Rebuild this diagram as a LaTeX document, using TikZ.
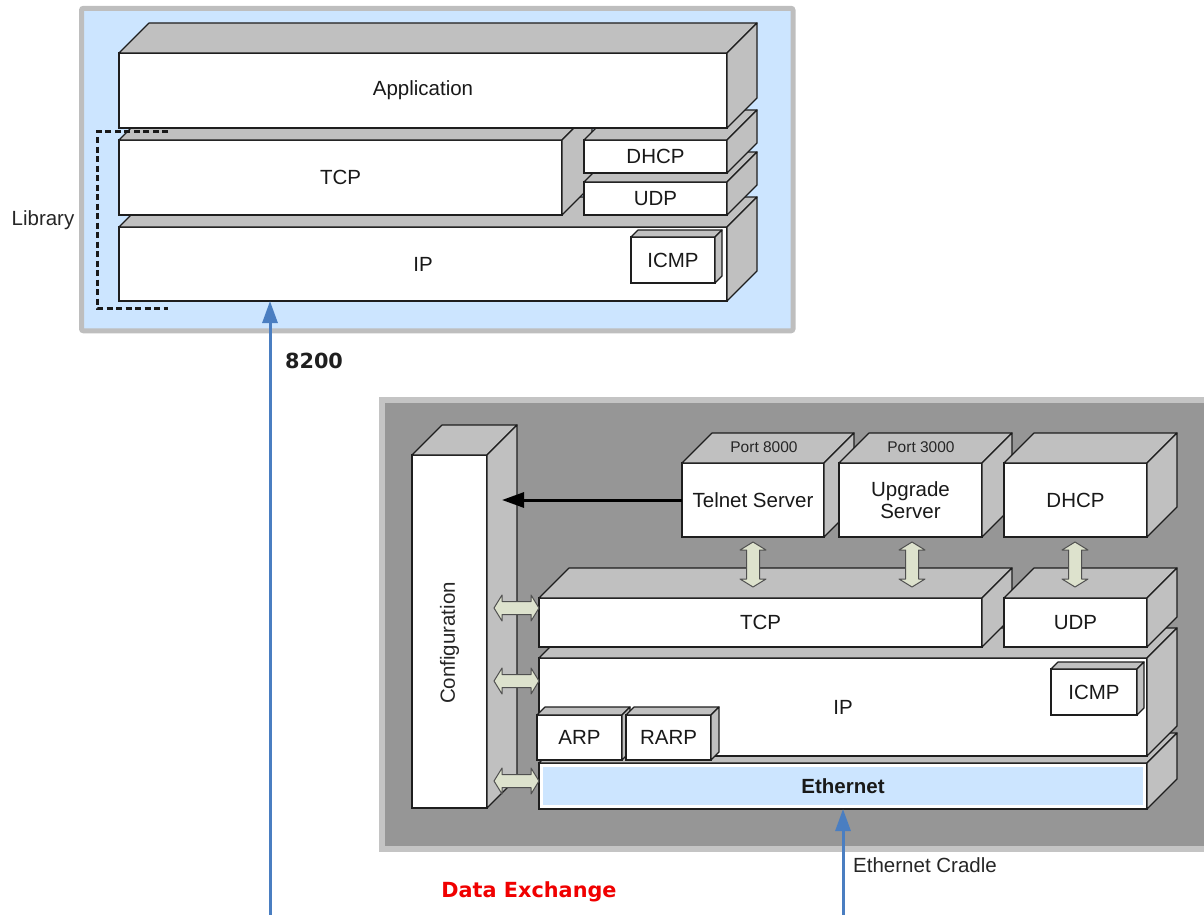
\documentclass[tikz,border=0pt]{standalone}
\usepackage{fontspec}
\setmainfont{Liberation Sans}
\newfontfamily\djv{DejaVu Sans}
\usetikzlibrary{calc,arrows.meta}
\definecolor{panelblue}{RGB}{204,229,255}
\definecolor{facegray}{RGB}{192,192,192}
\definecolor{darkpanel}{RGB}{150,150,150}
\definecolor{panelrim}{RGB}{196,196,196}
\definecolor{toprim}{RGB}{190,190,190}
\definecolor{arrowfill}{RGB}{221,226,205}
\definecolor{arrowline}{RGB}{80,80,80}
\definecolor{flowblue}{RGB}{74,126,193}
\definecolor{outline}{RGB}{30,30,30}
\definecolor{datared}{RGB}{240,0,0}
\tikzset{
 box/.style={draw=outline, fill=white, line width=1.2pt, inner sep=0pt, outer sep=0pt, text=black!90, font=\fontsize{20.5}{24}\selectfont, align=center},
 face/.style={draw=outline, fill=facegray, line width=1.2pt, line join=round},
 small/.style={font=\fontsize{15.5}{18}\selectfont, inner sep=0pt, text=black!85},
 lbl/.style={font=\fontsize{20.5}{24}\selectfont, inner sep=0pt, text=black!85},
 dbl/.style={draw=arrowline, fill=arrowfill, line width=1pt, line join=round},
 flow/.style={draw=flowblue, line width=3pt, -{Triangle[length=22pt,width=15pt]}},
 ctrl/.style={draw=black, line width=3pt, -{Triangle[length=22pt,width=15pt]}},
 libdash/.style={draw=black!90, line width=3pt, dash pattern=on 6pt off 3.5pt},
}
\newcommand\faces[2]{%
 \filldraw[face] (#1.north west) -- ++(#2,-#2) -- ($(#1.north east)+(#2,-#2)$) -- (#1.north east) -- cycle;
 \filldraw[face] (#1.north east) -- ++(#2,-#2) -- ($(#1.south east)+(#2,-#2)$) -- (#1.south east) -- cycle;}
\newcommand\dblarrow[2]{%
 \filldraw[dbl] let \p1=(#1), \p2=(#2), \n1={atan2(\y2-\y1,\x2-\x1)}, \n2={\n1+90}, \n3={\n1-90} in
 (\p1) -- ($(\p1)+(\n1:8pt)+(\n2:13pt)$) -- ($(\p1)+(\n1:8pt)+(\n2:6.5pt)$)
 -- ($(\p2)+(\n1:-8pt)+(\n2:6.5pt)$) -- ($(\p2)+(\n1:-8pt)+(\n2:13pt)$) -- (\p2)
 -- ($(\p2)+(\n1:-8pt)+(\n3:13pt)$) -- ($(\p2)+(\n1:-8pt)+(\n3:6.5pt)$)
 -- ($(\p1)+(\n1:8pt)+(\n3:6.5pt)$) -- ($(\p1)+(\n1:8pt)+(\n3:13pt)$) -- cycle;}
\begin{document}
\begin{tikzpicture}[x=1pt,y=-1pt]
\useasboundingbox (0,0) rectangle (1204,915);
% ---------- top panel (8200) ----------
\filldraw[draw=toprim, fill=panelblue, line width=5pt, rounded corners=2pt] (81.5,8.3) rectangle (793,330.8);
\node[box, minimum width=608pt, minimum height=74pt] (ip1) at (423,264) {IP};
\faces{ip1}{30}
\node[box, minimum width=84pt, minimum height=46pt] (icmp1) at (673,260) {ICMP};
\faces{icmp1}{7}
\node[box, minimum width=443pt, minimum height=75pt] (tcp1) at (340.5,177.5) {TCP};
\faces{tcp1}{30}
\node[box, minimum width=143pt, minimum height=33pt] (udp1) at (655.5,198.5) {UDP};
\faces{udp1}{30}
\node[box, minimum width=143pt, minimum height=33pt] (dhcp1) at (655.5,156.5) {DHCP};
\faces{dhcp1}{30}
\node[box, minimum width=608pt, minimum height=75pt] (app) at (423,90.5) {Application};
\faces{app}{30}
\draw[libdash] (168,132) -- (97,132) -- (97,308) -- (168,308);
\node[lbl] (lib) at (43,220) {Library};
% ---------- bottom panel ----------
\filldraw[draw=panelrim, fill=darkpanel, line width=6pt] (382,399.5) rectangle (1214,849.3);
\node[box, minimum width=75pt, minimum height=353pt] (config) at (449.5,631.5) {};
\faces{config}{30}
\node[lbl, rotate=90] (configtext) at (449.5,643) {Configuration};
\node[box, minimum width=608pt, minimum height=46pt] (eth) at (843,786) {};
\faces{eth}{30}
\node[fill=panelblue, inner sep=0pt, minimum width=600pt, minimum height=38pt, font=\fontsize{20.5}{24}\selectfont\bfseries, text=black!90] (ethin) at (843,786) {Ethernet};
\node[box, minimum width=608pt, minimum height=98pt] (ip2) at (843,707) {IP};
\faces{ip2}{30}
\node[box, minimum width=86pt, minimum height=46pt] (icmp2) at (1094,692) {ICMP};
\faces{icmp2}{7}
\node[box, minimum width=85pt, minimum height=45pt] (arp) at (579.5,737.5) {ARP};
\faces{arp}{8}
\node[box, minimum width=85pt, minimum height=45pt] (rarp) at (668.5,737.5) {RARP};
\faces{rarp}{8}
\node[box, minimum width=443pt, minimum height=49pt] (tcp2) at (760.5,622.5) {TCP};
\faces{tcp2}{30}
\node[box, minimum width=143pt, minimum height=49pt] (udp2) at (1075.5,622.5) {UDP};
\faces{udp2}{30}
\node[box, minimum width=142pt, minimum height=74pt] (telnet) at (753,500) {Telnet Server};
\faces{telnet}{30}
\node[box, minimum width=143pt, minimum height=74pt] (upgrade) at (910.5,500) {Upgrade\\[-1.5pt]Server};
\faces{upgrade}{30}
\node[box, minimum width=143pt, minimum height=74pt] (dhcp2) at (1075.5,500) {DHCP};
\faces{dhcp2}{30}
\node[small] (port8000) at (764,447) {Port 8000};
\node[small] (port3000) at (921,447) {Port 3000};
% control arrow
\coordinate (cfgtip) at (502,500);
\draw[ctrl] (telnet.west) -- (cfgtip);
% double arrows
\coordinate (h1) at (494,608);
\coordinate (h2) at (494,681);
\coordinate (h3) at (494,781);
\dblarrow{h1}{tcp2.west |- h1}
\dblarrow{h2}{ip2.west |- h2}
\dblarrow{h3}{eth.west |- h3}
\coordinate (v1) at (753,587);
\coordinate (v2) at (912,587);
\coordinate (v3) at (1075,587);
\dblarrow{$(telnet.south)+(0,5)$}{v1}
\dblarrow{912,542}{v2}
\dblarrow{$(dhcp2.south)+(-0.5,5)$}{v3}
% external flows
\coordinate (src8200) at (270,915);
\coordinate (srccradle) at (843,915);
\draw[flow] (src8200) -- (src8200 |- ip1.south);
\draw[flow] (srccradle) -- (eth.south);
\node[font=\djv\bfseries\fontsize{20.8}{24}\selectfont, text=black!88, inner sep=0pt] (l8200) at (314,361) {8200};
\node[font=\djv\bfseries\fontsize{20.8}{24}\selectfont, text=datared, inner sep=0pt] (dataex) at (529,892) {Data Exchange};
\node[lbl, anchor=west] (cradle) at (853,865) {Ethernet Cradle};
\end{tikzpicture}
\end{document}
